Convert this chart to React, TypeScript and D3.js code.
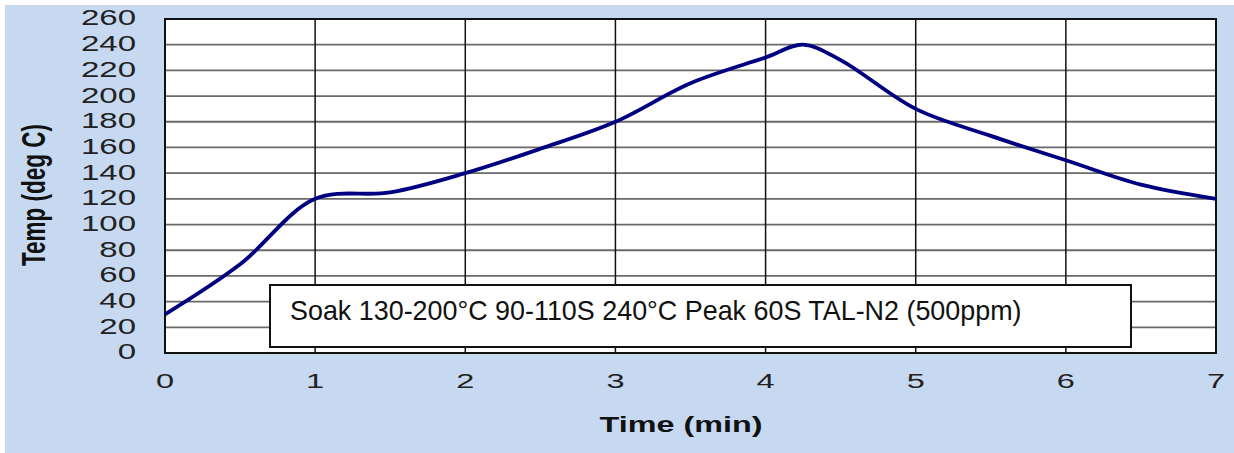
import React from "react";
import * as d3 from "d3";

const W = 1234;
const H = 453;

// reflow profile
const timeMin = [0, 0.5, 1, 1.5, 2, 2.5, 3, 3.5, 4, 4.25, 4.5, 5, 5.5, 6, 6.5, 7];
const tempC = [30, 69, 120, 125, 140, 159, 180, 210, 230, 240, 228, 190, 169, 150, 131, 120];

const xTicks = [0, 1, 2, 3, 4, 5, 6, 7];
const yTicks = [0, 20, 40, 60, 80, 100, 120, 140, 160, 180, 200, 220, 240, 260];

const note = "Soak 130-200°C 90-110S 240°C Peak 60S TAL-N2 (500ppm)";

const plot = { left: 165, right: 1216, top: 19, bottom: 353 };

export default function App() {
  const x = d3.scaleLinear().domain([0, 7]).range([plot.left, plot.right]);
  const y = d3.scaleLinear().domain([0, 260]).range([plot.bottom, plot.top]);

  const pts = timeMin.map((t, i) => [t, tempC[i]] as [number, number]);
  const line = d3
    .line<[number, number]>()
    .x((d) => x(d[0]))
    .y((d) => y(d[1]))
    .curve(d3.curveCatmullRom.alpha(0.5));

  const font = "'Liberation Sans', Arial, sans-serif";

  return (
    <svg
      width={W}
      height={H}
      style={{ position: "absolute", left: 0, top: 0 }}
      fontFamily={font}
    >
      <rect x={0} y={0} width={W} height={H} fill="#fff" />
      <rect x={5} y={5} width={W - 5} height={H - 5} fill="#c6d9f1" />

      {/* plot area */}
      <rect
        x={plot.left}
        y={plot.top}
        width={plot.right - plot.left}
        height={plot.bottom - plot.top}
        fill="#fff"
      />

      {/* horizontal grid */}
      {yTicks.map((v) => (
        <line
          key={"h" + v}
          x1={plot.left}
          x2={plot.right}
          y1={y(v)}
          y2={y(v)}
          stroke="#6a6a6a"
          strokeWidth={1.8}
        />
      ))}
      {/* vertical grid */}
      {xTicks.map((t) => (
        <line
          key={"v" + t}
          x1={x(t)}
          x2={x(t)}
          y1={plot.top}
          y2={plot.bottom}
          stroke="#111"
          strokeWidth={1.5}
        />
      ))}
      <rect
        x={plot.left}
        y={plot.top}
        width={plot.right - plot.left}
        height={plot.bottom - plot.top}
        fill="none"
        stroke="#111"
        strokeWidth={2}
      />

      {/* y tick labels */}
      {yTicks.map((v) => (
        <text
          key={"yl" + v}
          transform={`translate(136,${y(v) - 1}) scale(1.5,1)`}
          textAnchor="end"
          dominantBaseline="central"
          fontSize={22}
          fill="#222"
        >
          {v}
        </text>
      ))}

      {/* x tick labels */}
      {xTicks.map((t) => (
        <text
          key={"xl" + t}
          transform={`translate(${x(t)},${381}) scale(1.55,1)`}
          textAnchor="middle"
          dominantBaseline="central"
          fontSize={21}
          fill="#222"
        >
          {t}
        </text>
      ))}

      {/* axis titles */}
      <text
        transform="translate(681,432) scale(1.47,1)"
        textAnchor="middle"
        fontSize={22}
        fontWeight="bold"
        fill="#111"
      >
        Time (min)
      </text>
      <text
        transform="translate(45,195) scale(1.45,1) rotate(-90)"
        textAnchor="middle"
        fontSize={22.5}
        fontWeight="bold"
        fill="#111"
      >
        Temp (deg C)
      </text>

      {/* profile curve */}
      <path
        d={line(pts) || ""}
        fill="none"
        stroke="#000080"
        strokeWidth={3.8}
        strokeLinejoin="round"
      />

      {/* annotation box */}
      <rect x={270} y={285} width={861} height={62} fill="#fff" stroke="#111" strokeWidth={2} />
      <text x={290} y={320} fontSize={26.9} fill="#111">
        {note}
      </text>
    </svg>
  );
}
